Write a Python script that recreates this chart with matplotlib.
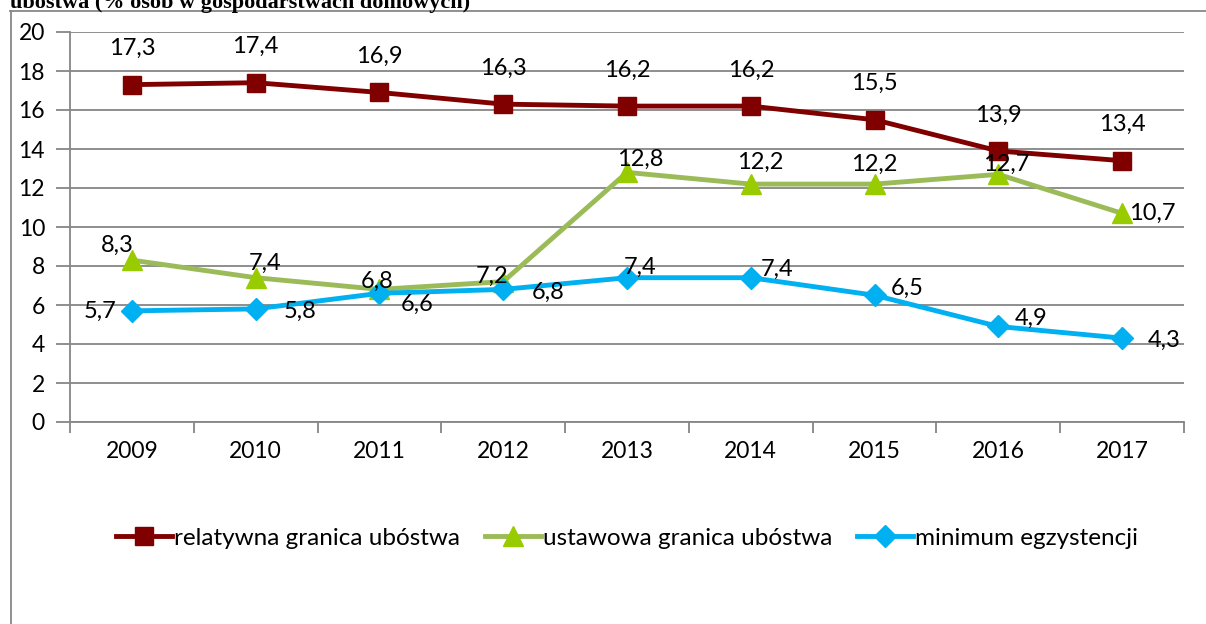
import matplotlib
matplotlib.use("Agg")
import matplotlib.pyplot as plt
from matplotlib.lines import Line2D

# Data
years = ["2009", "2010", "2011", "2012", "2013", "2014", "2015", "2016", "2017"]
relatywna = [17.3, 17.4, 16.9, 16.3, 16.2, 16.2, 15.5, 13.9, 13.4]
ustawowa = [8.3, 7.4, 6.8, 7.2, 12.8, 12.2, 12.2, 12.7, 10.7]
minimum = [5.7, 5.8, 6.6, 6.8, 7.4, 7.4, 6.5, 4.9, 4.3]
names = ["relatywna granica ubóstwa", "ustawowa granica ubóstwa", "minimum egzystencji"]
title = "ubóstwa (% osób w gospodarstwach domowych)"

# label offsets in pixels (dx, dy up)
off_rel = [(0, 36)] * 9
off_ust = [(-15, 15), (9, 14), (-2, 8), (-11, 5), (13, 13), (9, 22), (0, 20), (8, 10), (30, 0)]
off_min = [(-32, 0), (44, -2), (38, -11), (45, -3), (13, 10), (26, 8), (33, 7), (33, 8), (42, -2)]

plt.rcParams['font.family'] = ['Lato', 'DejaVu Sans']

W, H = 1206, 624
fig = plt.figure(figsize=(W / 100, H / 100), dpi=100)
ax = fig.add_axes([70 / W, 1 - 422 / H, (1184 - 70) / W, (422 - 32) / H])

x = list(range(len(years)))
grid_c = "#868686"

l1, = ax.plot(x, relatywna, color="#800000", lw=3.5, marker="s", ms=13,
              mfc="#800000", mec="#800000", zorder=5)
l2, = ax.plot(x, ustawowa, color="#9BBB59", lw=3.5, marker="^", ms=15,
              mfc="#99CC00", mec="#99CC00", zorder=4)
l3, = ax.plot(x, minimum, color="#00B0F0", lw=3.5, marker="D", ms=11,
              mfc="#00B0F0", mec="#00B0F0", zorder=6)

for vals, offs in [(relatywna, off_rel), (ustawowa, off_ust), (minimum, off_min)]:
    for xi, v, (dx, dy) in zip(x, vals, offs):
        ax.annotate(f"{v:.1f}".replace(".", ","), (xi, v),
                    xytext=(dx * 0.72, dy * 0.72), textcoords="offset points",
                    ha="center", va="center", fontsize=17, color="black", zorder=10)

ax.set_xlim(-0.5, len(years) - 0.5)
ax.set_ylim(0, 20)
ax.set_yticks(range(0, 21, 2))
ax.set_xticks(x)
ax.set_xticklabels(years)
ax.set_xticks([i - 0.5 for i in range(len(years) + 1)], minor=True)
ax.tick_params(axis="x", which="major", length=0, pad=14, labelsize=16.5)
ax.tick_params(axis="x", which="minor", length=8, width=1.3, color=grid_c)
ax.tick_params(axis="y", length=10, width=1.3, color=grid_c, pad=8, labelsize=16.5)
ax.grid(axis="y", color=grid_c, lw=1.3)
ax.set_axisbelow(True)
for s in ["top", "right"]:
    ax.spines[s].set_visible(False)
for s in ["left", "bottom"]:
    ax.spines[s].set_color(grid_c)
    ax.spines[s].set_linewidth(1.3)

fig.legend([l1, l2, l3], names, loc="center", bbox_to_anchor=(0.52, 1 - 538 / H),
           ncol=3, frameon=False, fontsize=17.5, handlelength=2.3, handletextpad=0.1,
           columnspacing=1.0)

# outer frame
fig.add_artist(Line2D([10.5 / W, 10.5 / W], [0, 1 - 11 / H], color="#888888", lw=1.3))
fig.add_artist(Line2D([10 / W, 1], [1 - 11 / H, 1 - 11 / H], color="#888888", lw=1.3))

fig.text(10 / W, 1 - 8 / H, title, family=["Liberation Serif"], weight="bold",
         fontsize=16, ha="left", va="baseline")

fig.savefig("out.png", dpi=100)
